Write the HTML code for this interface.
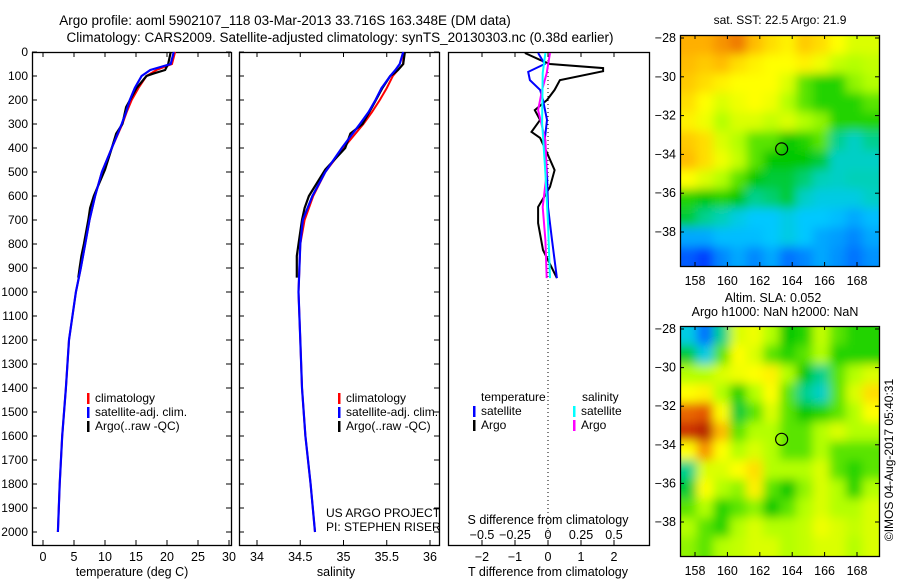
<!DOCTYPE html>
<html><head><meta charset="utf-8"><style>
html,body{margin:0;padding:0;background:#fff;overflow:hidden;width:900px;height:580px;}
svg{display:block;font-family:"Liberation Sans",sans-serif;}
text{fill:#000;}
</style></head><body>
<svg id="c" width="900" height="580" viewBox="0 0 900 580">
<defs>
<filter id="blur" x="-5%" y="-5%" width="110%" height="110%"><feGaussianBlur stdDeviation="5" edgeMode="duplicate"/></filter>
<clipPath id="clipTop"><rect x="680" y="35" width="199" height="231"/></clipPath>
<clipPath id="clipBot"><rect x="680" y="326" width="199" height="230"/></clipPath>
</defs>
<text x="285" y="25" text-anchor="middle" font-size="13.5">Argo profile: aoml 5902107_118 03-Mar-2013 33.716S 163.348E (DM data)</text>
<text x="340" y="42" text-anchor="middle" font-size="13.5">Climatology: CARS2009. Satellite-adjusted climatology: synTS_20130303.nc (0.38d earlier)</text>
<g id="g"></g>
</svg>
<script>
// ---- profile data ----
const depthClim = [0,50,75,100,150,200,250,300,400,500,600,700,800,900,1000,1200,1400,1600,1800,2000];
const tempClim  = [21.3,20.8,18.3,16.7,15.4,14.3,13.5,12.8,11.1,9.5,8.4,7.5,6.8,6.1,5.3,4.2,3.7,3.1,2.7,2.4];
const tempSat   = [21.1,20.6,17.3,15.9,14.8,14.0,13.4,12.7,11.1,9.5,8.4,7.5,6.8,6.1,5.3,4.2,3.7,3.1,2.7,2.4];
const salClim   = [35.69,35.69,35.63,35.57,35.50,35.42,35.33,35.23,35.00,34.79,34.65,34.55,34.50,34.49,34.48,34.50,34.52,34.56,34.62,34.67];
const salSat    = [35.69,35.65,35.60,35.54,35.44,35.37,35.29,35.19,34.98,34.79,34.64,34.53,34.50,34.49,34.48,34.50,34.52,34.56,34.62,34.67];
const depthArgo = [0,50,75,90,100,150,230,300,340,400,490,600,650,700,800,850,900,940];
const tempArgo  = [20.6,20.2,19.7,17.8,16.7,15.1,13.4,12.8,11.8,11.1,10.0,8.2,7.6,7.3,6.6,6.2,5.9,5.7];
const salArgo   = [35.71,35.69,35.63,35.58,35.54,35.45,35.33,35.22,35.08,35.02,34.79,34.60,34.55,34.52,34.48,34.46,34.46,34.46];
// difference panel data
const depthDT = [4,33,50,67,80,117,158,200,242,283,333,358,420,492,562,646,713,825,942];
const dTArgo  = [-0.7,-0.24,0.06,1.67,1.67,0.36,0.2,-0.03,-0.4,-0.24,-0.5,-0.24,-0.03,0.2,0.06,-0.3,-0.3,-0.15,0.27];
const depthDTs = [4,50,83,117,158,200,283,367,504,646,783,942];
const dTSat    = [-0.3,-0.1,-0.6,-0.55,-0.24,-0.15,-0.03,-0.1,-0.03,0,0.12,0.27];
const depthDS = [4,88,158,242,367,504,646,783,942];
const dSArgo  = [0.015,-0.01,-0.045,-0.075,-0.02,-0.01,-0.04,-0.02,-0.01];
const depthDSs = [4,88,296,504,713,942];
const dSSat    = [-0.02,-0.04,-0.045,-0.02,0,0.015];
const depthTicks = [0,100,200,300,400,500,600,700,800,900,1000,1100,1200,1300,1400,1500,1600,1700,1800,1900,2000];
const tempTicks = [0,5,10,15,20,25,30];
const salTicks = [34,34.5,35,35.5,36];
const salTickLabels = ["34","34.5","35","35.5","36"];
const dTTicks = [-2,-1,0,1,2];
const dSTicks = [-0.5,-0.25,0,0.25,0.5];
const dSTickLabels = ["\u22120.5","\u22120.25","0","0.25","0.5"];
// map data (0=blue .. 1=red)
const sstGrid = [
[0.72,0.72,0.75,0.78,0.7,0.65,0.62,0.68,0.65,0.6,0.55,0.55],
[0.7,0.68,0.7,0.65,0.62,0.6,0.6,0.62,0.58,0.52,0.5,0.52],
[0.68,0.65,0.62,0.6,0.6,0.6,0.55,0.45,0.42,0.42,0.48,0.5],
[0.65,0.6,0.55,0.58,0.6,0.58,0.5,0.45,0.42,0.42,0.42,0.45],
[0.62,0.58,0.5,0.55,0.55,0.52,0.55,0.5,0.48,0.42,0.42,0.42],
[0.68,0.65,0.55,0.5,0.45,0.45,0.4,0.42,0.45,0.35,0.32,0.35],
[0.7,0.65,0.58,0.52,0.45,0.4,0.4,0.4,0.38,0.32,0.32,0.32],
[0.6,0.55,0.5,0.45,0.4,0.38,0.38,0.36,0.33,0.32,0.33,0.33],
[0.42,0.4,0.42,0.4,0.35,0.36,0.38,0.32,0.3,0.3,0.3,0.32],
[0.38,0.35,0.33,0.3,0.28,0.28,0.3,0.28,0.28,0.27,0.25,0.27],
[0.25,0.25,0.27,0.27,0.27,0.28,0.3,0.28,0.25,0.24,0.22,0.25],
[0.18,0.15,0.22,0.25,0.22,0.25,0.2,0.22,0.25,0.23,0.2,0.23]];
const slaGrid = [
[0.3,0.2,0.35,0.55,0.58,0.5,0.4,0.42,0.52,0.45,0.42,0.42],
[0.38,0.3,0.45,0.6,0.55,0.45,0.42,0.45,0.5,0.42,0.42,0.42],
[0.5,0.5,0.55,0.58,0.6,0.62,0.5,0.4,0.35,0.45,0.5,0.55],
[0.6,0.62,0.5,0.42,0.5,0.6,0.45,0.35,0.32,0.45,0.55,0.65],
[0.8,0.82,0.6,0.38,0.45,0.55,0.45,0.4,0.42,0.45,0.5,0.6],
[0.88,0.92,0.7,0.45,0.5,0.5,0.45,0.45,0.5,0.55,0.5,0.5],
[0.6,0.75,0.6,0.5,0.55,0.5,0.45,0.45,0.5,0.45,0.45,0.45],
[0.35,0.55,0.55,0.6,0.65,0.5,0.5,0.5,0.55,0.45,0.42,0.45],
[0.38,0.6,0.5,0.48,0.62,0.45,0.4,0.48,0.55,0.5,0.42,0.5],
[0.45,0.5,0.42,0.45,0.48,0.4,0.45,0.5,0.55,0.5,0.5,0.55],
[0.5,0.45,0.42,0.5,0.55,0.5,0.5,0.52,0.58,0.55,0.52,0.55],
[0.48,0.45,0.5,0.52,0.55,0.55,0.5,0.52,0.55,0.55,0.5,0.55]];
const lonTicks = [158,160,162,164,166,168];
const latTicks = [-28,-30,-32,-34,-36,-38];
const floatLon = 163.348, floatLat = -33.716;

const NS='http://www.w3.org/2000/svg';
const G=document.getElementById('g');
function mk(tag,attrs,parent){const e=document.createElementNS(NS,tag);for(const k in attrs)e.setAttribute(k,attrs[k]);(parent||G).appendChild(e);return e;}
function txt(x,y,s,size,anchor,parent){const t=mk('text',{x:x,y:y,'font-size':size||12,'text-anchor':anchor||'middle'},parent);t.textContent=s;return t;}

const TOP=52,BOT=545;
const yD=d=>52+d*0.24;
const xT=v=>43+v*6.2;
const xS=v=>257+(v-34)*86.5;
const xDT=v=>548+v*33;
const xDS=v=>548+v*132;

function panel(x0,x1,name){
  const r=mk('rect',{x:x0+0.5,y:TOP+0.5,width:x1-x0,height:BOT-TOP,fill:'#fff',stroke:'#000','stroke-width':1.3});
  
  
}
function line(xs,ys,fx,color,name,w){
  let d='';
  for(let i=0;i<xs.length;i++){d+=(i?'L':'M')+fx(xs[i]).toFixed(1)+' '+yD(ys[i]).toFixed(1);}
  const p=mk('path',{d:d,fill:'none',stroke:color,'stroke-width':w||2,'stroke-linejoin':'miter'});
  
  
}
function yTicks(x0,x1,labels){
  depthTicks.forEach(d=>{
    const y=yD(d);
    mk('line',{x1:x0,y1:y,x2:x0+5,y2:y,stroke:'#000'});
    mk('line',{x1:x1-5,y1:y,x2:x1,y2:y,stroke:'#000'});
    if(labels){const t=txt(28,y+4,String(d),12,'end');}
  });
}
function xTicks(vals,labs,fx,ly,top){
  vals.forEach((v,i)=>{
    const x=fx(v);
    mk('line',{x1:x,y1:BOT,x2:x,y2:BOT-5,stroke:'#000'});
    if(top)mk('line',{x1:x,y1:TOP,x2:x,y2:TOP+5,stroke:'#000'});
    const t=txt(x,ly,labs[i],12.5);
    
    
  });
}
function legend(x,y,color,label){
  mk('rect',{x:x,y:y-9,width:2.5,height:11,fill:color});
  const t=txt(x+8,y,label,12,'start');
  
  
}

// Panel 1: temperature
panel(32,231,'temperature-panel');
yTicks(32,231,true);
xTicks(tempTicks,tempTicks.map(String),xT,561,true);
line(tempClim,depthClim,xT,'#ff0000','climatology-temp-line');
line(tempArgo,depthArgo,xT,'#000000','argo-temp-line',2.2);
line(tempSat,depthClim,xT,'#0000ff','satellite-temp-line',2.2);
txt(132,576,'temperature (deg C)',12.5);
legend(87,402,'#ff0000','climatology');
legend(87,416,'#0000ff','satellite-adj. clim.');
legend(87,430,'#000000','Argo(..raw -QC)');

// Panel 2: salinity
panel(239,439,'salinity-panel');
yTicks(239,439,false);
xTicks(salTicks,salTickLabels,xS,561,true);
line(salClim,depthClim,xS,'#ff0000','climatology-sal-line');
line(salArgo,depthArgo,xS,'#000000','argo-sal-line',2.2);
line(salSat,depthClim,xS,'#0000ff','satellite-sal-line',2.2);
txt(336,576,'salinity',12.5);
legend(338,402,'#ff0000','climatology');
legend(338,416,'#0000ff','satellite-adj. clim.');
legend(338,430,'#000000','Argo(..raw -QC)');
txt(326,517,'US ARGO PROJECT',12,'start');
txt(326,531,'PI: STEPHEN RISER',12,'start');

// Panel 3: differences
panel(448,649,'difference-panel');
mk('line',{x1:548,y1:TOP,x2:548,y2:BOT,stroke:'#000','stroke-dasharray':'1,3'});
xTicks(dTTicks,dTTicks.map(v=>v<0?'\u2212'+(-v):String(v)),xDT,561,false);
dSTicks.forEach(v=>{const x=xDS(v);mk('line',{x1:x,y1:TOP,x2:x,y2:TOP+5,stroke:'#000'});});
dSTicks.forEach((v,i)=>{const t=txt(xDS(v),539,dSTickLabels[i],12.5);});
txt(548,524,'S difference from climatology',12.5);
txt(548,576,'T difference from climatology',12.5);
line(dTArgo,depthDT,xDT,'#000000','argo-temp-diff-line',2);
line(dTSat,depthDTs,xDT,'#0000ff','satellite-temp-diff-line',2);
line(dSArgo,depthDS,xDS,'#ff00ff','argo-sal-diff-line',2);
line(dSSat,depthDSs,xDS,'#00ffff','satellite-sal-diff-line',2);
txt(481,401,'temperature',12,'start');
txt(582,401,'salinity',12,'start');
legend(473,415,'#0000ff','satellite');
legend(473,429,'#000000','Argo');
legend(573,415,'#00ffff','satellite');
legend(573,429,'#ff00ff','Argo');

// Maps
function cmap(v){
  const stops=[[0,[0,0,140]],[0.15,[0,60,255]],[0.28,[0,200,255]],[0.34,[0,210,170]],[0.40,[0,200,0]],[0.5,[180,255,0]],[0.6,[255,255,0]],[0.72,[255,175,0]],[0.85,[220,60,0]],[1,[140,0,0]]];
  for(let i=1;i<stops.length;i++){if(v<=stops[i][0]){const a=stops[i-1],b=stops[i];const t=(v-a[0])/(b[0]-a[0]);const c=a[1].map((x,k)=>Math.round(x+(b[1][k]-x)*t));return 'rgb('+c.join(',')+')';}}
  return 'rgb(140,0,0)';
}
function drawMap(grid,x0,y0,w,h,lat28y,latStep,clip,name){
  const grp=mk('g',{'clip-path':'url(#'+clip+')'});
  
  
  const inner=mk('g',{filter:'url(#blur)'},grp);
  const rows=grid.length,cols=grid[0].length,cw=w/cols,ch=h/rows;
  for(let r=0;r<rows;r++)for(let c=0;c<cols;c++){
    let x=x0+c*cw,y=y0+r*ch,ww=cw+1,hh=ch+1;
    if(c==0){x-=15;ww+=15;} if(c==cols-1){ww+=15;}
    if(r==0){y-=15;hh+=15;} if(r==rows-1){hh+=15;}
    mk('rect',{x:x,y:y,width:ww,height:hh,fill:cmap(grid[r][c])},inner);
  }
  mk('rect',{x:x0+0.5,y:y0+0.5,width:w,height:h,fill:'none',stroke:'#000','stroke-width':1.3});
  const xL=v=>695+(v-158)*16.2;
  const yL=v=>lat28y+(-28-v)*latStep;
  lonTicks.forEach(v=>{const x=xL(v);mk('line',{x1:x,y1:y0+h,x2:x,y2:y0+h-4,stroke:'#000'});mk('line',{x1:x,y1:y0,x2:x,y2:y0+4,stroke:'#000'});txt(x,y0+h+19,String(v),12.5);});
  latTicks.forEach(v=>{const y=yL(v);mk('line',{x1:x0,y1:y,x2:x0+4,y2:y,stroke:'#000'});mk('line',{x1:x0+w-4,y1:y,x2:x0+w,y2:y,stroke:'#000'});txt(x0-4,y+4,'\u2212'+(-v),12.5,'end');});
  const circ=mk('circle',{cx:xL(floatLon),cy:yL(floatLat),r:6,fill:'none',stroke:'#000','stroke-width':1.2});
  
  
}
txt(780,24,'sat. SST: 22.5 Argo: 21.9',12);
drawMap(sstGrid,680,35,199,231,38,19.4,'clipTop','sst-map');
txt(773,302,'Altim. SLA: 0.052',12.5);
txt(775,316,'Argo h1000: NaN h2000: NaN',12.5);
drawMap(slaGrid,680,326,199,230,329,19.3,'clipBot','sla-map');
const cr=txt(0,0,'\u00A9IMOS 04-Aug-2017 05:40:31',12);
cr.setAttribute('transform','translate(893,460) rotate(-90)');


</script>
</body></html>
